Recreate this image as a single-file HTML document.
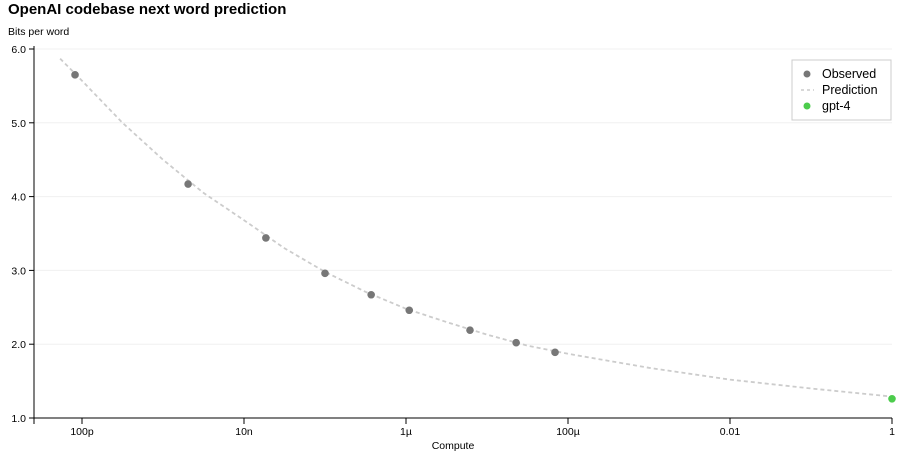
<!DOCTYPE html>
<html><head><meta charset="utf-8"><style>
body{margin:0;background:#fff;font-family:"Liberation Sans",sans-serif;}
svg text{font-family:"Liberation Sans",sans-serif;}
</style></head><body>
<svg id="chart" width="899" height="456">
<text x="8" y="14" font-size="15" font-weight="bold" fill="#000">OpenAI codebase next word prediction</text>
<text x="8" y="35" font-size="10.5" fill="#000">Bits per word</text>
<text x="453" y="449" font-size="10.5" text-anchor="middle" fill="#000">Compute</text>
<g id="grid"></g><g id="axes"></g><g id="series"></g>
<g>
<rect x="792" y="60" width="99" height="60" fill="#fff" stroke="#ccc"/>
<circle cx="807" cy="74" r="3.5" fill="#777"/>
<text x="822" y="78" font-size="12.5">Observed</text>
<line x1="801" y1="90" x2="814" y2="90" stroke="#ccc" stroke-width="1.5" stroke-dasharray="3,3"/>
<text x="822" y="94" font-size="12.5">Prediction</text>
<circle cx="807" cy="106" r="3.5" fill="#4ccc4c"/>
<text x="822" y="110" font-size="12.5">gpt-4</text>
</g>
</svg>
<script>
const obsLogC=[-10.086,-8.69,-7.73,-7.0,-6.43,-5.96,-5.21,-4.64,-4.16];
const obsVal=[5.65,4.17,3.44,2.96,2.67,2.46,2.19,2.02,1.89];
const gptLogC=[0];
const gptVal=[1.26];
const predLogC=[-10.27,-10,-9.5,-9,-8.5,-8,-7.5,-7,-6.5,-6,-5.5,-5,-4.5,-4,-3,-2,-1,0];
const predVal=[5.87,5.57,5.0,4.5,4.05,3.68,3.3,2.98,2.71,2.48,2.3,2.13,1.98,1.87,1.68,1.52,1.40,1.29];
const yTicks=[1,2,3,4,5,6];
const yTickLabels=["1.0","2.0","3.0","4.0","5.0","6.0"];
const xTicks=[-10,-8,-6,-4,-2,0];
const xTickLabels=["100p","10n","1µ","100µ","0.01","1"];
const NS="http://www.w3.org/2000/svg";
const X=l=>892+l*81.0, Y=v=>418-(v-1)*73.8;
function mk(p,t,a){const e=document.createElementNS(NS,t);for(const k in a)e.setAttribute(k,a[k]);p.appendChild(e);return e;}
const grid=document.getElementById('grid'),axes=document.getElementById('axes'),ser=document.getElementById('series');
yTicks.forEach((v,i)=>{
 if(v>1){const g=mk(grid,'line',{x1:34,x2:892,y1:Y(v),y2:Y(v),stroke:'#f0f0f0'});
 
 }
 mk(axes,'line',{x1:29,x2:34,y1:Y(v),y2:Y(v),stroke:'#000'});
 const t=mk(axes,'text',{x:26,y:Y(v)+4,'font-size':10.5,'text-anchor':'end'});t.textContent=yTickLabels[i];
 
 
});
mk(axes,'line',{x1:34,x2:34,y1:46,y2:418,stroke:'#000'});
mk(axes,'line',{x1:34,x2:892,y1:418,y2:418,stroke:'#000'});
mk(axes,'line',{x1:34,x2:34,y1:418,y2:424,stroke:'#000'});
xTicks.forEach((l,i)=>{
 mk(axes,'line',{x1:X(l),x2:X(l),y1:418,y2:424,stroke:'#000'});
 const t=mk(axes,'text',{x:X(l),y:435,'font-size':10.5,'text-anchor':'middle'});t.textContent=xTickLabels[i];
 
 
});
const p=mk(ser,'path',{d:predLogC.map((l,i)=>(i?'L':'M')+X(l)+','+Y(predVal[i])).join(''),fill:'none',stroke:'#ccc','stroke-width':1.8,'stroke-dasharray':'4,3'});


obsLogC.forEach((l,i)=>{const c=mk(ser,'circle',{cx:X(l),cy:Y(obsVal[i]),r:3.8,fill:'#777'});
 
 });
gptLogC.forEach((l,i)=>{const c=mk(ser,'circle',{cx:X(l),cy:Y(gptVal[i]),r:3.8,fill:'#4ccc4c'});
 
 });
</script>
</body></html>
